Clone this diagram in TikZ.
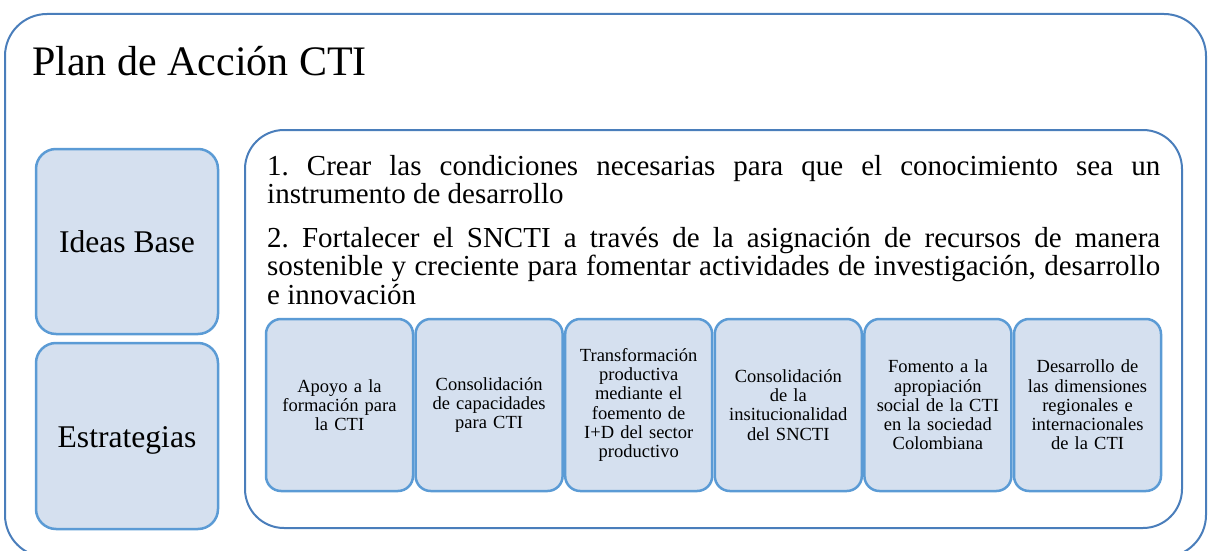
\documentclass[tikz,border=0pt]{standalone}
\usepackage{fontspec}
\setmainfont{Liberation Serif}
\frenchspacing
\definecolor{boxfill}{RGB}{213,224,239}
\definecolor{boxline}{RGB}{91,155,213}
\definecolor{frameline}{RGB}{74,126,187}
\begin{document}
\begin{tikzpicture}[x=1pt,y=-1pt,
  frame/.style={draw=frameline,line width=2pt},
  bigbox/.style={draw=boxline,fill=boxfill,line width=2.5pt,rounded corners=20pt},
  smallbox/.style={draw=boxline,fill=boxfill,line width=2.5pt,rounded corners=15pt},
  smalltext/.style={align=center,text width=140pt,inner sep=0pt,font=\fontsize{18.5}{19.3}\selectfont},
  bigtext/.style={inner sep=0pt,anchor=base,font=\fontsize{31.6}{34}\selectfont}]
\useasboundingbox (0,0) rectangle (1208,551);
\begin{scope}
\clip (0,0) rectangle (1208,551);
\draw[frame,rounded corners=42pt] (5,14) rectangle (1206,557);
\end{scope}
\node[anchor=base west,inner sep=0pt,font=\fontsize{42}{48}\selectfont] (title) at (32,75) {Plan de Acción CTI};
% left boxes
\draw[bigbox] (36,149) rectangle (218,334);
\node[bigtext] (ideas) at (127,252) {Ideas Base};
\draw[bigbox] (36,343) rectangle (218,529);
\node[bigtext] (estr) at (127,447) {Estrategias};
% inner frame
\draw[frame,rounded corners=39pt] (245,130) rectangle (1182,528);
\node[anchor=base west,inner sep=0pt] (p1) at (267,175) {\parbox[t]{893pt}{\fontsize{29}{28.3}\selectfont\frenchspacing
\makebox[893pt][s]{1. Crear las condiciones necesarias para que el conocimiento sea un}\\
instrumento de desarrollo}};
\node[anchor=base west,inner sep=0pt] (p2) at (267,247) {\parbox[t]{893pt}{\fontsize{29}{28.8}\selectfont\frenchspacing
\makebox[893pt][s]{2. Fortalecer el SNCTI a través de la asignación de recursos de manera}\\
\makebox[893pt][s]{sostenible y creciente para fomentar actividades de investigación, desarrollo}\\
e innovación}};
% strategy boxes
\foreach \i/\txt in {0/{Apoyo a la\\formación para\\la CTI},
  1/{Consolidación\\de capacidades\\para CTI},
  2/{Transformación\\productiva\\mediante el\\foemento de\\I+D del sector\\productivo},
  3/{Consolidación\\de la\\insitucionalidad\\del SNCTI},
  4/{Fomento a la\\apropiación\\social de la CTI\\en la sociedad\\Colombiana},
  5/{Desarrollo de\\las dimensiones\\regionales e\\internacionales\\de la CTI}}{
  \pgfmathsetmacro{\xl}{266+149.6*\i}
  \pgfmathsetmacro{\xr}{\xl+147}
  \pgfmathsetmacro{\xc}{\xl+73.5}
  \draw[smallbox] (\xl,319) rectangle (\xr,491);
  \node[smalltext] (s\i) at (\xc,405) {\txt};
}
\end{tikzpicture}
\end{document}
